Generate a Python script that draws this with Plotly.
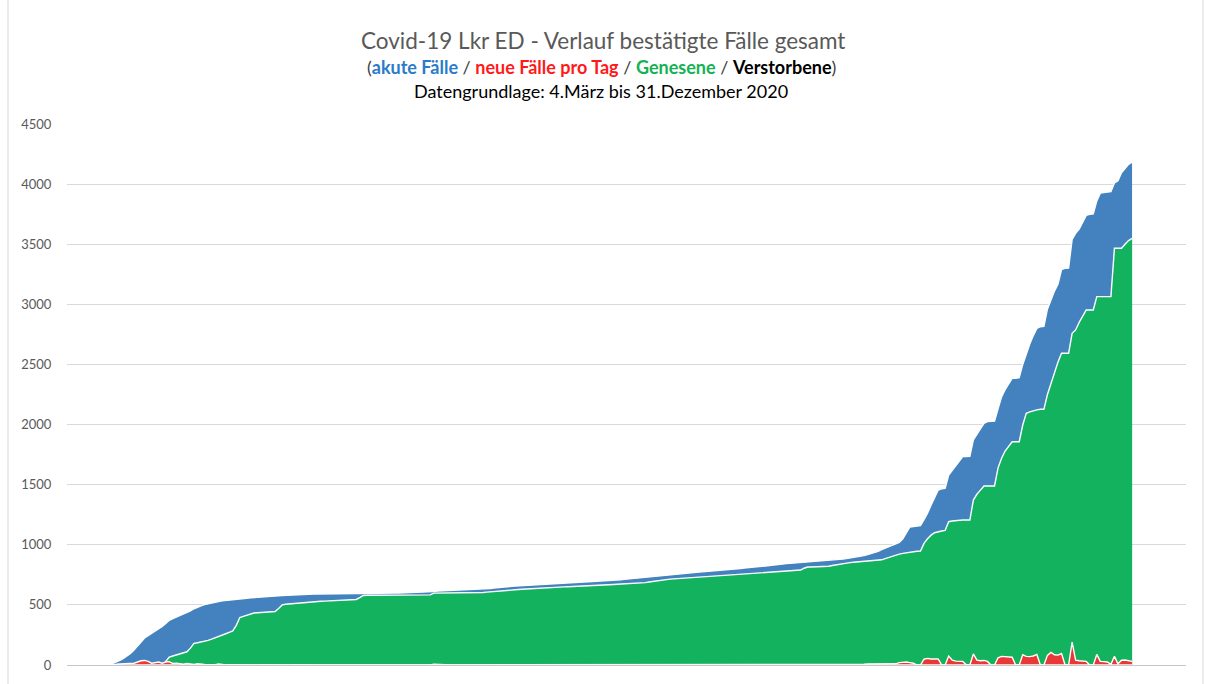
import pandas as pd
import plotly.graph_objects as go

# Daily values, 4 March 2020 (Wednesday) to 31 December 2020, one row per week (Wed..Tue)
dates = pd.date_range("2020-03-04", "2020-12-31", freq="D")

# cumulative confirmed cases (blue)
total_cases = [
    1, 1, 1, 1, 2, 2, 2,
    2, 3, 3, 4, 5, 6, 14,
    25, 38, 55, 72, 95, 125, 160,
    195, 225, 245, 262, 280, 300, 320,
    345, 372, 385, 398, 410, 418, 435,
    450, 468, 482, 492, 502, 510, 518,
    524, 528, 533, 537, 540, 543, 546,
    549, 552, 555, 558, 561, 563, 566,
    568, 570, 572, 574, 576, 578, 580,
    582, 583, 585, 586, 587, 588, 589,
    590, 590, 591, 591, 592, 592, 593,
    593, 594, 594, 594, 595, 595, 595,
    596, 596, 596, 597, 597, 597, 598,
    598, 598, 599, 599, 600, 600, 601,
    601, 601, 602, 602, 602, 603, 610,
    615, 616, 617, 618, 619, 620, 621,
    622, 623, 625, 627, 628, 630, 631,
    633, 636, 640, 644, 648, 650, 652,
    654, 656, 658, 660, 662, 665, 667,
    669, 671, 673, 675, 677, 679, 681,
    683, 685, 686, 688, 690, 691, 692,
    693, 694, 695, 696, 697, 698, 700,
    702, 704, 706, 709, 712, 715, 718,
    721, 723, 725, 728, 732, 736, 740,
    744, 748, 751, 754, 757, 760, 763,
    765, 767, 769, 771, 773, 775, 777,
    779, 781, 783, 785, 787, 789, 792,
    795, 799, 803, 807, 811, 814, 817,
    819, 821, 824, 828, 832, 836, 839,
    841, 843, 845, 847, 850, 853, 856,
    859, 861, 863, 864, 865, 867, 869,
    872, 875, 878, 881, 885, 889, 893,
    898, 904, 910, 918, 926, 935, 945,
    960, 972, 982, 995, 1008, 1020, 1050,
    1100, 1148, 1152, 1156, 1160, 1210, 1262,
    1330, 1400, 1455, 1465, 1470, 1580, 1620,
    1660, 1700, 1733, 1733, 1735, 1872, 1920,
    1970, 2010, 2024, 2026, 2028, 2130, 2230,
    2290, 2340, 2385, 2385, 2390, 2500, 2590,
    2670, 2740, 2800, 2814, 2816, 2960, 3040,
    3110, 3170, 3290, 3300, 3302, 3540, 3590,
    3625, 3680, 3740, 3748, 3752, 3860, 3925,
    3930, 3934, 3937, 4010, 4028, 4095, 4130,
    4165, 4182,
]

# cumulative recovered (green)
recovered = [
    0, 0, 0, 0, 0, 0, 0,
    0, 0, 0, 0, 0, 0, 0,
    0, 0, 0, 0, 0, 0, 0,
    0, 0, 0, 0, 0, 0, 0,
    30, 65, 75, 85, 95, 102, 110,
    140, 180, 185, 190, 195, 205, 215,
    225, 235, 248, 260, 272, 283, 330,
    395, 405, 415, 428, 432, 435, 437,
    439, 441, 443, 445, 470, 500, 505,
    508, 511, 514, 517, 520, 522, 524,
    526, 528, 530, 531, 533, 534, 535,
    537, 538, 540, 541, 543, 545, 560,
    578, 580, 580, 580, 580, 580, 580,
    580, 580, 580, 580, 581, 581, 581,
    581, 581, 582, 582, 582, 583, 598,
    598, 598, 598, 598, 599, 599, 599,
    599, 600, 600, 600, 600, 601, 603,
    606, 609, 612, 615, 618, 620, 622,
    624, 626, 628, 630, 632, 635, 638,
    640, 642, 643, 645, 646, 647, 648,
    649, 650, 651, 652, 653, 654, 655,
    656, 657, 658, 660, 662, 664, 666,
    668, 670, 672, 673, 675, 676, 678,
    679, 680, 682, 685, 690, 695, 700,
    704, 708, 711, 714, 716, 718, 720,
    722, 724, 726, 728, 730, 732, 734,
    736, 738, 740, 742, 745, 748, 750,
    752, 754, 756, 758, 760, 762, 764,
    765, 767, 769, 771, 773, 775, 777,
    779, 781, 783, 785, 788, 790, 805,
    815, 815, 816, 816, 817, 818, 822,
    828, 834, 840, 845, 850, 852, 855,
    858, 860, 862, 864, 866, 869, 872,
    875, 885, 895, 906, 915, 922, 928,
    934, 940, 944, 946, 948, 1012, 1050,
    1080, 1100, 1109, 1115, 1120, 1192, 1198,
    1202, 1206, 1206, 1206, 1206, 1372, 1420,
    1455, 1489, 1489, 1489, 1489, 1640, 1720,
    1780, 1820, 1857, 1857, 1857, 1996, 2093,
    2105, 2115, 2122, 2127, 2127, 2250, 2343,
    2430, 2520, 2593, 2593, 2593, 2759, 2787,
    2850, 2900, 2953, 2953, 2953, 3064, 3064,
    3064, 3064, 3064, 3466, 3466, 3466, 3500,
    3530, 3549,
]

# new cases per day (red)
new_per_day = [
    0, 0, 0, 1, 0, 0, 0,
    1, 0, 1, 1, 1, 2, 5,
    6, 8, 10, 8, 12, 15, 25,
    35, 38, 30, 15, 22, 25, 15,
    25, 28, 12, 14, 8, 6, 12,
    6, 4, 10, 5, 4, 3, 2,
    3, 8, 2, 1, 3, 2, 2,
    3, 2, 2, 3, 2, 1, 3,
    2, 2, 2, 2, 1, 2, 2,
    1, 2, 1, 1, 1, 1, 1,
    1, 0, 1, 0, 1, 0, 1,
    0, 1, 0, 0, 1, 0, 0,
    1, 0, 0, 1, 0, 0, 1,
    0, 0, 1, 0, 1, 0, 1,
    0, 0, 1, 0, 0, 1, 7,
    5, 1, 1, 1, 1, 1, 1,
    1, 1, 2, 2, 1, 2, 1,
    2, 3, 4, 4, 4, 2, 2,
    2, 2, 2, 2, 2, 3, 2,
    2, 2, 2, 2, 2, 2, 2,
    2, 2, 1, 2, 2, 1, 1,
    1, 1, 1, 1, 1, 1, 2,
    2, 2, 2, 3, 3, 3, 3,
    3, 2, 2, 3, 4, 4, 4,
    4, 4, 3, 3, 3, 3, 3,
    2, 2, 2, 2, 2, 2, 2,
    2, 2, 2, 2, 2, 2, 3,
    3, 4, 4, 4, 4, 3, 3,
    2, 2, 3, 4, 4, 4, 3,
    2, 2, 2, 2, 3, 3, 3,
    3, 2, 2, 1, 1, 2, 2,
    3, 3, 3, 3, 4, 4, 4,
    5, 6, 6, 8, 8, 9, 10,
    12, 10, 8, 12, 10, 20, 25,
    25, 20, 15, 0, 0, 48, 55,
    50, 52, 50, 2, 0, 75, 40,
    32, 30, 30, 2, 0, 92, 40,
    35, 38, 30, 0, 0, 60, 72,
    68, 70, 65, 0, 0, 85, 72,
    70, 75, 88, 0, 0, 80, 105,
    85, 82, 95, 0, 0, 190, 40,
    35, 35, 30, 0, 0, 88, 30,
    28, 25, 5, 72, 10, 40, 42,
    38, 30,
]

# deaths per day (black)
deaths_per_day = [
    0, 0, 0, 0, 0, 0, 0,
    0, 0, 0, 0, 0, 0, 0,
    0, 0, 0, 0, 0, 0, 0,
    0, 0, 0, 0, 0, 0, 0,
    0, 1, 0, 0, 1, 0, 1,
    0, 1, 0, 1, 0, 0, 1,
    0, 0, 1, 0, 0, 0, 0,
    0, 0, 0, 0, 0, 0, 0,
    0, 0, 0, 0, 0, 0, 0,
    0, 0, 0, 0, 0, 0, 0,
    0, 0, 0, 0, 0, 0, 0,
    0, 0, 0, 0, 0, 0, 0,
    0, 0, 0, 0, 0, 0, 0,
    0, 0, 0, 0, 0, 0, 0,
    0, 0, 0, 0, 0, 0, 0,
    0, 0, 0, 0, 0, 0, 0,
    0, 0, 0, 0, 0, 0, 0,
    0, 0, 0, 0, 0, 0, 0,
    0, 0, 0, 0, 0, 0, 0,
    0, 0, 0, 0, 0, 0, 0,
    0, 0, 0, 0, 0, 0, 0,
    0, 0, 0, 0, 0, 0, 0,
    0, 0, 0, 0, 0, 0, 0,
    0, 0, 0, 0, 0, 0, 0,
    0, 0, 0, 0, 0, 0, 0,
    0, 0, 0, 0, 0, 0, 0,
    0, 0, 0, 0, 0, 0, 0,
    0, 0, 0, 0, 0, 0, 0,
    0, 0, 0, 0, 0, 0, 0,
    0, 0, 0, 0, 0, 0, 0,
    0, 0, 0, 0, 0, 0, 0,
    0, 0, 0, 0, 0, 0, 0,
    0, 0, 0, 0, 0, 0, 0,
    0, 0, 0, 0, 0, 0, 0,
    0, 0, 0, 0, 0, 1, 0,
    1, 0, 1, 0, 0, 1, 0,
    0, 1, 0, 0, 0, 2, 1,
    0, 1, 1, 0, 0, 2, 1,
    1, 0, 2, 0, 0, 2, 1,
    1, 2, 1, 0, 0, 3, 2,
    1, 2, 1, 0, 0, 3, 2,
    2, 1, 2, 0, 0, 3, 2,
    2, 3, 1, 2, 0, 3, 2,
    2, 1,
]

y_ticks = [0, 500, 1000, 1500, 2000, 2500, 3000, 3500, 4000, 4500]

title_line1 = "Covid-19 Lkr ED - Verlauf bestätigte Fälle gesamt"
title_line2 = ("(<b><span style='color:#2A7BC8'>akute Fälle</span></b> / "
               "<b><span style='color:#FF1A1A'>neue Fälle pro Tag</span></b> / "
               "<b><span style='color:#14B254'>Genesene</span></b> / "
               "<b><span style='color:#000000'>Verstorbene</span></b>)")
title_line3 = "Datengrundlage: 4.März bis 31.Dezember 2020"

FONT = "Lato"
W, H = 1206, 684
ML, MR, MT, MB = 67, 20, 124, 19

series = [
    (total_cases, "#4382BE"),
    (recovered, "#12B25E"),
    (new_per_day, "#E93838"),
    (deaths_per_day, "#1A1A1A"),
]

fig = go.Figure()
for values, colour in series:
    fig.add_trace(go.Scatter(
        x=dates, y=values, mode="lines", fill="tozeroy",
        fillcolor=colour, line=dict(color="white", width=1.4),
        hoverinfo="skip", showlegend=False,
    ))

fig.update_layout(
    width=W, height=H,
    margin=dict(l=ML, r=MR, t=MT, b=MB, pad=0),
    paper_bgcolor="white", plot_bgcolor="white",
    font=dict(family=FONT, color="#595959"),
    xaxis=dict(
        type="date", range=["2020-03-04", "2021-01-15 07:00"],
        showticklabels=False, showgrid=False, zeroline=False,
        showline=True, linecolor="#c6c6c6", linewidth=1, ticks="",
        fixedrange=True,
    ),
    yaxis=dict(
        range=[0, 4500], tickmode="array", tickvals=y_ticks,
        ticktext=[str(v) for v in y_ticks],
        showgrid=True, gridcolor="#d9d9d9", gridwidth=1,
        zeroline=False, showline=False,
        ticks="outside", ticklen=12, tickcolor="rgba(0,0,0,0)",
        tickfont=dict(family=FONT, size=13, color="#595959"),
        fixedrange=True,
    ),
)

pw, ph = W - ML - MR, H - MT - MB


def title_pos(px, py):
    """Convert a pixel position on the page into paper coordinates."""
    return (px - ML) / pw, 1 + (MT - py) / ph


for text, (px, py), size, colour in [
    (title_line1, (603, 40), 22.5, "#595959"),
    (title_line2, (601, 67), 18, "#404040"),
    (title_line3, (601, 91), 18, "#000000"),
]:
    ax, ay = title_pos(px, py)
    fig.add_annotation(text=text, xref="paper", yref="paper", x=ax, y=ay,
                       xanchor="center", yanchor="middle", showarrow=False,
                       font=dict(family=FONT, size=size, color=colour))

# chart-area frame lines on the left and right edges
for px in (8, 1203):
    xp = (px - ML) / pw
    fig.add_shape(type="line", xref="paper", yref="paper",
                  x0=xp, x1=xp, y0=-MB / ph, y1=1 + MT / ph,
                  line=dict(color="#d9d9d9", width=1))

fig.write_html("out.html", config={"displayModeBar": False})
